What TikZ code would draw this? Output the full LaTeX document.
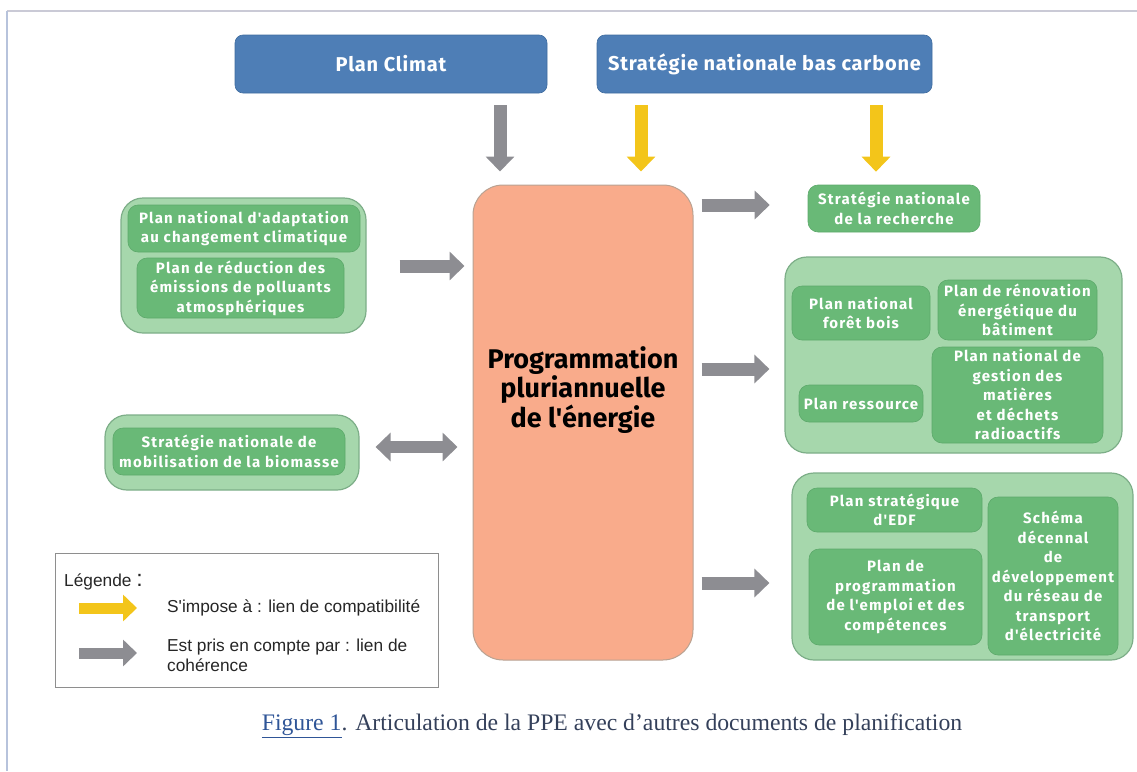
\documentclass[tikz,border=0pt]{standalone}
\usepackage{fontspec}
\usetikzlibrary{arrows.meta}
\newfontfamily\bx{Fira Sans}
\newfontfamily\bxs{Fira Sans}[LetterSpace=8]
\newfontfamily\bxh{Fira Sans}[LetterSpace=4]
\newfontfamily\lib{Liberation Sans}
\newfontfamily\tms{Liberation Serif}
\definecolor{cblue}{HTML}{4E7EB6}
\definecolor{cblueD}{HTML}{3F6C9F}
\definecolor{cout}{HTML}{A6D7AC}
\definecolor{coutD}{HTML}{7DAE88}
\definecolor{cin}{HTML}{69B977}
\definecolor{cinD}{HTML}{5DA96B}
\definecolor{corange}{HTML}{F9AB8B}
\definecolor{corangeD}{HTML}{B9A292}
\definecolor{carr}{HTML}{8D8D92}
\definecolor{cyel}{HTML}{F3C51A}
\definecolor{clegD}{HTML}{8E8E8E}
\definecolor{cframeT}{HTML}{CACAD6}
\definecolor{cframeL}{HTML}{B7C3DC}
\definecolor{ccapblue}{HTML}{2F5597}
\definecolor{ccap}{HTML}{34405A}
\tikzset{
  bluebox/.style={rounded corners=8pt, fill=cblue, draw=cblueD, line width=0.6pt, text=white,
    font=\bxh\bfseries\fontsize{20}{23}\selectfont, inner sep=0pt},
  outerbox/.style={rounded corners=22pt, fill=cout, draw=coutD, line width=1.2pt, inner sep=0pt},
  innerbox/.style={rounded corners=10pt, fill=cin, draw=cinD, line width=0.6pt, text=white,
    font=\bxs\bfseries\fontsize{15}{19.5}\selectfont, align=center, inner sep=0pt},
  ppebox/.style={rounded corners=30pt, fill=corange, draw=corangeD, line width=1pt, inner sep=0pt},
  grayarr/.style={draw=carr, line width=13pt, -{Triangle[width=28pt,length=15pt]}},
  grayarr2/.style={draw=carr, line width=12pt, {Triangle[width=28pt,length=15pt]}-{Triangle[width=28pt,length=15pt]}},
  yelarr/.style={draw=cyel, line width=13pt, -{Triangle[width=28pt,length=15pt]}},
  leggray/.style={draw=carr, line width=11pt, -{Triangle[width=26pt,length=14pt]}},
  legyel/.style={draw=cyel, line width=11pt, -{Triangle[width=26pt,length=14pt]}},
  legtext/.style={font=\lib\fontsize{17.3}{20}\selectfont, text=black!85, anchor=west, align=left, inner sep=0pt},
}
\begin{document}
\begin{tikzpicture}[x=1pt,y=-1pt]
\useasboundingbox (0,0) rectangle (1137,771);
% page frame
\draw[cframeT, line width=2pt] (7,11) -- (1137,11);
\draw[cframeL, line width=2pt] (7,11) -- (7,771);

% top blue boxes
\node[bluebox, minimum width=312pt, minimum height=58pt] (pc) at (391,64) {Plan Climat};
\node[bluebox, minimum width=335pt, minimum height=58pt] (snbc) at (764.5,64) {Stratégie nationale bas carbone};

% central box
\node[ppebox, minimum width=220pt, minimum height=475pt] (ppe) at (583,422.5) {};
\node[font=\bx\bfseries\fontsize{27}{29.5}\selectfont, align=center, text=black] (ppet) at (583,390) {Programmation\\pluriannuelle\\de l'énergie};

% left containers
\node[outerbox, minimum width=245pt, minimum height=135pt] (o1) at (243.5,265.5) {};
\node[innerbox, minimum width=232pt, minimum height=47pt] (adapt) at (244,228.5) {Plan national d'adaptation\\au changement climatique};
\node[innerbox, minimum width=207pt, minimum height=60pt] (reduc) at (240.5,288) {Plan de réduction des\\émissions de polluants\\atmosphériques};

\node[outerbox, minimum width=254pt, minimum height=75pt] (o2) at (232,452.5) {};
\node[innerbox, minimum width=232pt, minimum height=47pt] (bio) at (229,451.5) {Stratégie nationale de\\mobilisation de la biomasse};

% right side
\node[innerbox, minimum width=172pt, minimum height=47pt] (srr) at (894,208.5) {Stratégie nationale\\de la recherche};

\node[outerbox, minimum width=337pt, minimum height=196pt] (o3) at (953.5,355) {};
\node[innerbox, minimum width=138pt, minimum height=54pt] (foret) at (861,313) {Plan national\\forêt bois};
\node[innerbox, minimum width=159pt, minimum height=60pt] (renov) at (1017.5,310) {Plan de rénovation\\énergétique du\\bâtiment};
\node[innerbox, minimum width=124pt, minimum height=37pt] (ress) at (861,403.5) {Plan ressource};
\node[innerbox, minimum width=171pt, minimum height=96pt] (gest) at (1017.5,395) {Plan national de\\gestion des\\matières\\et déchets\\radioactifs};

\node[outerbox, minimum width=341pt, minimum height=187pt] (o4) at (962.5,566.5) {};
\node[innerbox, minimum width=175pt, minimum height=44pt] (edf) at (894.5,510) {Plan stratégique\\d'EDF};
\node[innerbox, minimum width=173pt, minimum height=96pt] (emploi) at (895.5,597) {Plan de\\programmation\\de l'emploi et des\\compétences};
\node[innerbox, minimum width=130pt, minimum height=158pt] (sch) at (1053,576) {Schéma\\décennal\\de\\développement\\du réseau de\\transport\\d'électricité};

% vertical arrows
\draw[grayarr, shorten <=12pt, shorten >=13pt] (pc.south -| 500,0) -- (ppe.north -| 500,0);
\draw[yelarr, shorten <=12pt, shorten >=13pt] (snbc.south -| 641,0) -- (ppe.north -| 641,0);
\draw[yelarr, shorten <=12pt, shorten >=13pt] (snbc.south -| 876,0) -- (srr.north -| 876,0);

% horizontal arrows
\draw[grayarr, shorten <=33pt, shorten >=8pt] (o1.east |- 0,266) -- (ppe.west |- 0,266);
\draw[grayarr2, shorten <=16pt, shorten >=15pt] (o2.east |- 0,447) -- (ppe.west |- 0,447);
\draw[grayarr, shorten <=8pt, shorten >=38pt] (ppe.east |- 0,205) -- (srr.west |- 0,205);
\draw[grayarr, shorten <=8pt, shorten >=15pt] (ppe.east |- 0,369) -- (o3.west |- 0,369);
\draw[grayarr, shorten <=8pt, shorten >=22pt] (ppe.east |- 0,583) -- (o4.west |- 0,583);

% legend
\node[draw=clegD, line width=1pt, fill=white, minimum width=383pt, minimum height=134pt, inner sep=0pt] (leg) at (246.5,620) {};
\node[legtext] (legt) at (64,582) {Légende {\fontsize{23}{23}\selectfont :}};
\coordinate (ly1) at (79,608);
\coordinate (ly2) at (137,608);
\coordinate (lg1) at (79,653);
\coordinate (lg2) at (137,653);
\draw[legyel] (ly1) -- (ly2);
\draw[leggray] (lg1) -- (lg2);
\node[legtext] (lt1) at (167,608) {S'impose à : lien de compatibilité};
\node[legtext] (lt2) at (167,655) {Est pris en compte par : lien de\\cohérence};

% caption
\node[font=\tms\fontsize{23.7}{26}\selectfont, text=ccap, inner sep=0pt] (cap) at (612,726) {\textcolor{ccapblue}{\underline{Figure 1}}. Articulation de la PPE avec d’autres documents de planification};
\end{tikzpicture}
\end{document}
